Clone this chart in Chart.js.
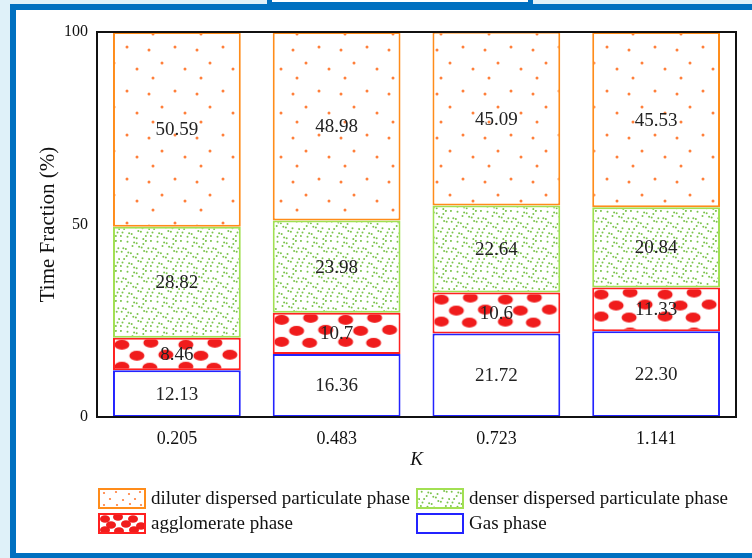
<!DOCTYPE html>
<html>
<head>
<meta charset="utf-8">
<script src="https://cdn.jsdelivr.net/npm/chart.js@4.4.1/dist/chart.umd.min.js"></script>
<style>
  html, body { margin: 0; padding: 0; }
  body { width: 752px; height: 558px; overflow: hidden; background: #dff1f9; position: relative; }
  #frame { position: absolute; left: 10px; top: 4px; width: 800px; height: 555px; box-sizing: border-box;
           border: 6px solid #0070c0; border-right: none; background: #fff; }
  #tab { position: absolute; left: 267px; top: 0; width: 266px; height: 6px; background: #0070c0; }
  #tab div { position: absolute; left: 5px; right: 5px; top: 0; height: 2px; background: #fff; }
  #chart { position: absolute; left: 0; top: 0; }
</style>
</head>
<body>
<div id="frame"></div>
<div id="tab"><div></div></div>
<canvas id="chart" width="752" height="558"></canvas>
<script>
// valores (%) por fase para cada K
const categories = ["0.205", "0.483", "0.723", "1.141"];
const gasPhase = ["12.13", "16.36", "21.72", "22.30"];
const agglomeratePhase = ["8.46", "10.7", "10.6", "11.33"];
const denserPhase = ["28.82", "23.98", "22.64", "20.84"];
const diluterPhase = ["50.59", "48.98", "45.09", "45.53"];
const yTicks = [0, 50, 100];
const seriesNames = ["Gas phase", "agglomerate phase", "denser dispersed particulate phase", "diluter dispersed particulate phase"];

const SERIF = "'Liberation Serif', 'Times New Roman', serif";

const canvas = document.getElementById("chart");
const ctx = canvas.getContext("2d");

// texturas de relleno
function makeTileCanvas(w, h, draw) {
  const c = document.createElement("canvas");
  c.width = w; c.height = h;
  const g = c.getContext("2d");
  g.fillStyle = "#fff";
  g.fillRect(0, 0, w, h);
  draw(g, w, h);
  return c;
}

function wrapped(g, w, h, x, y, fn) {
  for (const dx of [-w, 0, w]) for (const dy of [-h, 0, h]) fn(g, x + dx, y + dy);
}

function dot(g, x, y, r) { g.beginPath(); g.arc(x, y, r, 0, Math.PI * 2); g.fill(); }
function blob(g, x, y, rx, ry) { g.beginPath(); g.ellipse(x, y, rx, ry, 0, 0, Math.PI * 2); g.fill(); }

const orangeTile = makeTileCanvas(48, 44, (g, w, h) => {
  g.fillStyle = "#ff7f3a";
  [[5, 6], [31, 3], [18, 19], [41, 25], [9, 34]].forEach(([x, y]) => {
    wrapped(g, w, h, x, y, (gg, px, py) => dot(gg, px, py, 1.5));
  });
});

const greenTile = makeTileCanvas(30, 30, (g) => {
  g.fillStyle = "#7cc44e";
  for (let i = 0; i < 6; i++) {
    for (let j = 0; j < 6; j++) {
      const jx = ((i * 7 + j * 13) % 5) - 2;
      const jy = ((i * 11 + j * 3) % 5) - 2;
      dot(g, i * 5 + 2.5 + jx * 0.8, j * 5 + 2.5 + jy * 0.8, 1);
    }
  }
});

// elipses rojas: filas escalonadas, se alinean con el borde superior del segmento
const redTile = makeTileCanvas(64, 40, (g, w) => {
  g.fillStyle = "#f01c1c";
  [[9, 7], [38, 5], [24, 18], [53, 17], [9, 29], [37, 30]].forEach(([x, y]) => {
    for (const dx of [-w, 0, w]) blob(g, x + dx, y, 7.5, 5);
  });
});

const orangeDots = ctx.createPattern(orangeTile, "repeat");
const greenDots = ctx.createPattern(greenTile, "repeat");

function redBlobsFor(context) {
  const chart = context.chart;
  const i = context.dataIndex;
  const p = ctx.createPattern(redTile, "repeat");
  if (i === undefined || !chart.scales.y) return p;
  const top = chart.scales.y.getPixelForValue(Number(gasPhase[i]) + Number(agglomeratePhase[i]));
  const left = chart.scales.x.getPixelForValue(i) - 64;
  p.setTransform(new DOMMatrix().translate(left, top));
  return p;
}

const seriesValues = [gasPhase, agglomeratePhase, denserPhase, diluterPhase];
const fills = ["#ffffff", redBlobsFor, greenDots, orangeDots];
const borders = ["#2323ff", "#ff2020", "#a2e052", "#ff8c1a"];

// muestras de la leyenda
const swatchDraw = [
  () => {},
  (c, x, y) => {
    c.fillStyle = "#f01c1c";
    [[7, 6], [20, 4], [35, 6], [13, 12], [28, 11], [43, 13], [7, 17], [21, 18], [36, 17]].forEach(([dx, dy]) => blob(c, x + dx, y + dy, 5, 3.8));
  },
  (c, x, y, w, h) => { c.fillStyle = greenDots; c.fillRect(x, y, w, h); },
  (c, x, y) => {
    c.fillStyle = "#ff7f3a";
    [[6, 5], [18, 4], [31, 6], [42, 4], [12, 11], [25, 12], [37, 11], [6, 17], [19, 17], [32, 16], [43, 17]].forEach(([dx, dy]) => dot(c, x + dx, y + dy, 1.1));
  }
];

// etiquetas de valor en el centro de cada segmento
const segmentLabels = {
  id: "segmentLabels",
  afterDatasetsDraw(chart) {
    const c = chart.ctx;
    c.save();
    c.font = "19px " + SERIF;
    c.fillStyle = "#222";
    c.textAlign = "center";
    c.textBaseline = "middle";
    chart.data.datasets.forEach((ds, i) => {
      chart.getDatasetMeta(i).data.forEach((el, j) => {
        const { x, y, base } = el.getProps(["x", "y", "base"], true);
        c.fillText(seriesValues[i][j], x, (y + base) / 2 + 1);
      });
    });
    c.restore();
  }
};

// marco negro del área de trazado + leyenda de dos columnas
const frameAndLegend = {
  id: "frameAndLegend",
  afterDraw(chart) {
    const c = chart.ctx;
    const a = chart.chartArea;
    c.save();
    c.strokeStyle = "#111";
    c.lineWidth = 2;
    c.strokeRect(a.left, a.top, a.right - a.left, a.bottom - a.top);

    const items = [
      { i: 3, x: 98, y: 488 },
      { i: 2, x: 416, y: 488 },
      { i: 1, x: 98, y: 513 },
      { i: 0, x: 416, y: 513 }
    ];
    c.font = "19px " + SERIF;
    c.textBaseline = "middle";
    c.textAlign = "left";
    items.forEach(it => {
      const w = 48, h = 21;
      c.save();
      c.beginPath();
      c.rect(it.x, it.y, w, h);
      c.clip();
      c.fillStyle = "#fff";
      c.fillRect(it.x, it.y, w, h);
      swatchDraw[it.i](c, it.x, it.y, w, h);
      c.restore();
      c.strokeStyle = borders[it.i];
      c.lineWidth = 2;
      c.strokeRect(it.x + 1, it.y + 1, w - 2, h - 2);
      c.fillStyle = "#111";
      c.fillText(seriesNames[it.i], it.x + w + 5, it.y + h / 2 + 1);
    });
    c.restore();
  }
};

new Chart(ctx, {
  type: "bar",
  data: {
    labels: categories,
    datasets: seriesValues.map((vals, i) => ({
      label: seriesNames[i],
      data: vals.map(Number),
      backgroundColor: fills[i],
      borderColor: borders[i],
      borderWidth: 2,
      borderSkipped: false,
      barPercentage: 1,
      categoryPercentage: 0.8
    }))
  },
  options: {
    responsive: false,
    animation: false,
    devicePixelRatio: 1,
    layout: { padding: { left: 0, top: 32, right: 16, bottom: 88 } },
    plugins: { legend: { display: false }, tooltip: { enabled: false } },
    scales: {
      x: {
        stacked: true,
        grid: { display: false, drawTicks: false },
        border: { display: false },
        ticks: { color: "#111", font: { family: SERIF, size: 18 }, padding: 11, maxRotation: 0 },
        title: { display: true, text: "K", color: "#111", font: { family: SERIF, size: 19, style: "italic" }, padding: { top: 0, bottom: -1 } },
        afterFit(scale) { scale.height = 53; }
      },
      y: {
        stacked: true,
        min: 0,
        max: 100,
        grid: { display: false, drawTicks: false },
        border: { display: false },
        afterBuildTicks(scale) { scale.ticks = yTicks.map(v => ({ value: v })); },
        ticks: { color: "#111", font: { family: SERIF, size: 16 }, padding: 9 },
        title: { display: true, text: "Time Fraction (%)", color: "#111", font: { family: SERIF, size: 21 }, padding: { top: 36, bottom: 0 } },
        afterFit(scale) { scale.width = 97; }
      }
    }
  },
  plugins: [segmentLabels, frameAndLegend]
});
</script>
</body>
</html>
